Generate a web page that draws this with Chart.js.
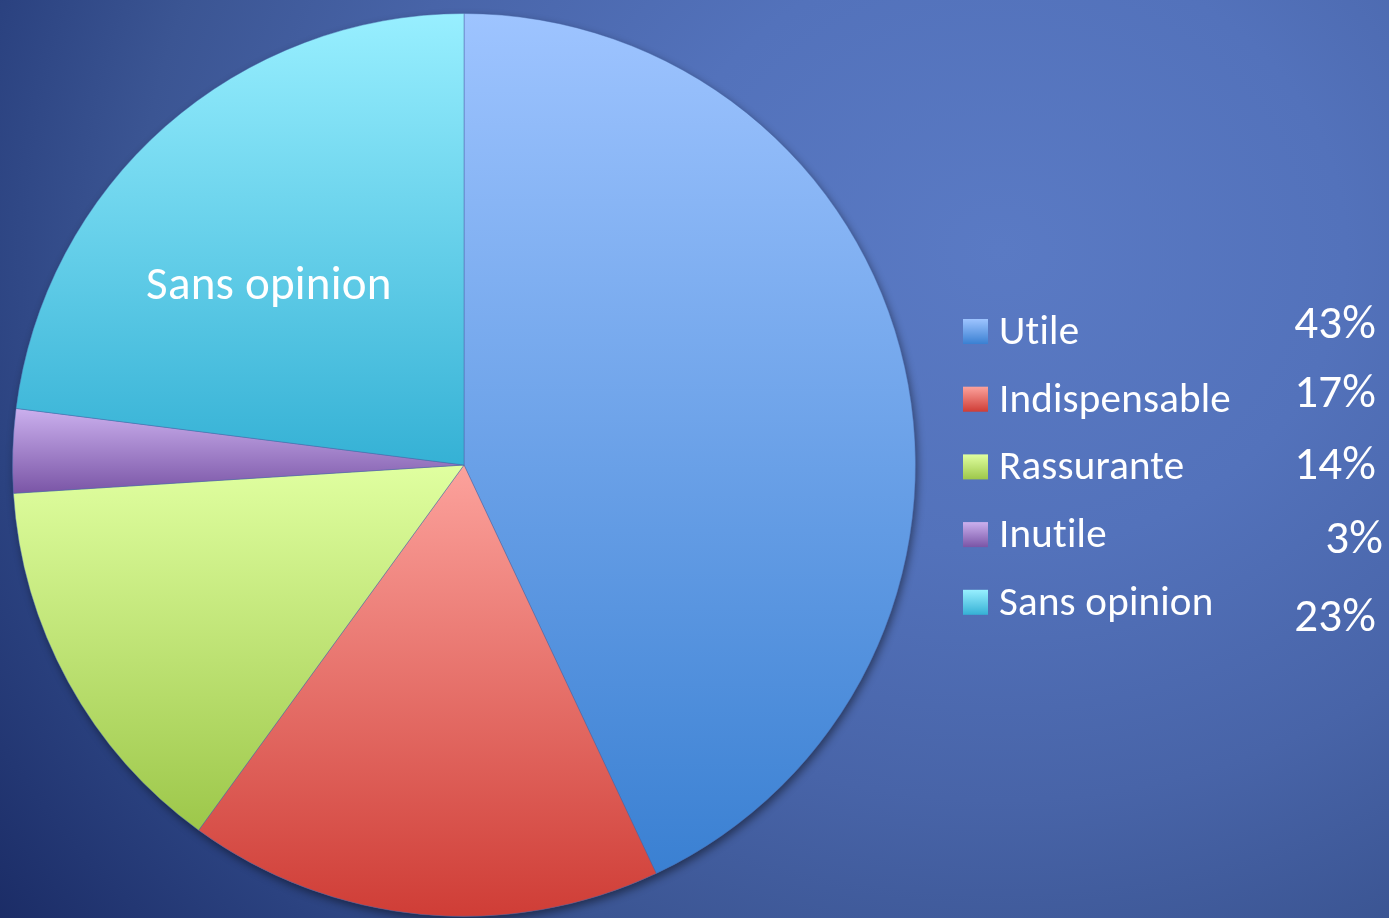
<!DOCTYPE html>
<html>
<head>
<meta charset="utf-8">
<script src="https://cdn.jsdelivr.net/npm/chart.js@4.4.1/dist/chart.umd.min.js"></script>
<style>
  html, body { margin: 0; padding: 0; width: 1389px; height: 918px; overflow: hidden; }
  body {
    background: radial-gradient(ellipse 1150px 1000px at 1000px 250px,
      #5a7ac4 0%, #5372bb 30%, #4864a8 55%, #3b5593 75%, #2b4280 90%, #1b2c66 110%);
  }
  canvas { display: block; }
</style>
</head>
<body>
<canvas id="pie" width="1389" height="918"></canvas>
<script>
// données du graphique
const categories = ['Utile', 'Indispensable', 'Rassurante', 'Inutile', 'Sans opinion'];
const values = [43, 17, 14, 3, 23];
const pctLabels = ['43%', '17%', '14%', '3%', '23%'];
const topColors = ['#9ec4ff', '#fca29c', '#e0ffa0', '#cbb0ee', '#98efff'];
const bottomColors = ['#3a80d2', '#cf3d36', '#9dc74a', '#7a55a6', '#35b1d5'];
const pieLabelIndex = 4; // seule tranche étiquetée dans l'original

const FONT = 'Carlito, Calibri, Lato, sans-serif';

function sliceAngles(i) {
  const total = values.reduce((a, b) => a + b, 0);
  let s = 0;
  for (let k = 0; k < i; k++) s += values[k];
  return [s / total * 2 * Math.PI, (s + values[i]) / total * 2 * Math.PI];
}

// dégradé vertical propre à chaque tranche
function sliceGradient(c) {
  const chart = c.chart, area = chart.chartArea;
  const i = c.dataIndex;
  if (!area) return topColors[i];
  const cx = (area.left + area.right) / 2, cy = (area.top + area.bottom) / 2;
  const r = Math.min(area.width, area.height) / 2;
  const [a0, a1] = sliceAngles(i);
  const ys = [cy, cy - r * Math.cos(a0), cy - r * Math.cos(a1)];
  if (a0 <= 0.0001 || a1 >= 2 * Math.PI - 0.0001) ys.push(cy - r);
  if (a0 <= Math.PI && a1 >= Math.PI) ys.push(cy + r);
  const g = chart.ctx.createLinearGradient(0, Math.min(...ys), 0, Math.max(...ys));
  g.addColorStop(0, topColors[i]);
  g.addColorStop(1, bottomColors[i]);
  return g;
}

function noLigatures(ctx) {
  if ('letterSpacing' in ctx) ctx.letterSpacing = '0.2px';
}

const shadowPlugin = {
  id: 'pieShadow',
  beforeDatasetsDraw(chart) {
    const arc = chart.getDatasetMeta(0).data[0];
    if (!arc) return;
    const ctx = chart.ctx;
    ctx.save();
    ctx.shadowColor = 'rgba(0,0,0,0.45)';
    ctx.shadowBlur = 8;
    ctx.shadowOffsetX = 2;
    ctx.shadowOffsetY = 4;
    ctx.fillStyle = '#4a6fb2';
    ctx.beginPath();
    ctx.arc(arc.x, arc.y, arc.outerRadius, 0, Math.PI * 2);
    ctx.fill();
    ctx.restore();
  }
};

const labelPlugin = {
  id: 'sliceLabel',
  afterDatasetsDraw(chart) {
    const arc = chart.getDatasetMeta(0).data[pieLabelIndex];
    if (!arc) return;
    const mid = (arc.startAngle + arc.endAngle) / 2;
    const d = arc.outerRadius * 0.59;
    const ctx = chart.ctx;
    ctx.save();
    noLigatures(ctx);
    ctx.fillStyle = '#ffffff';
    ctx.font = '47px ' + FONT;
    ctx.textAlign = 'center';
    ctx.textBaseline = 'middle';
    ctx.fillText(categories[pieLabelIndex], arc.x + Math.cos(mid) * d - 19, arc.y + Math.sin(mid) * d + 22);
    ctx.restore();
  }
};

// légende à droite avec colonne des pourcentages
const pctOffsetY = [-6, -5, 0, 6, 16];
const pctOffsetX = [0, 0, 0, 7, 0];
const legendPlugin = {
  id: 'sideLegend',
  afterDraw(chart) {
    const ctx = chart.ctx;
    ctx.save();
    noLigatures(ctx);
    categories.forEach((name, i) => {
      const base = 344 + i * 67.7;
      const my = base - 25;
      const g = ctx.createLinearGradient(0, my, 0, my + 25);
      g.addColorStop(0, topColors[i]);
      g.addColorStop(1, bottomColors[i]);
      ctx.fillStyle = g;
      ctx.fillRect(963, my, 25, 25);
      ctx.fillStyle = '#ffffff';
      ctx.font = '41px ' + FONT;
      ctx.textAlign = 'left';
      ctx.textBaseline = 'alphabetic';
      ctx.fillText(name, 999, base);
      ctx.font = '47px ' + FONT;
      ctx.textAlign = 'right';
      ctx.fillText(pctLabels[i], 1376 + pctOffsetX[i], base + pctOffsetY[i]);
    });
    ctx.restore();
  }
};

new Chart(document.getElementById('pie'), {
  type: 'pie',
  data: {
    labels: categories,
    datasets: [{
      data: values,
      backgroundColor: sliceGradient,
      borderWidth: 1,
      borderColor: 'rgba(70,100,165,0.45)'
    }]
  },
  options: {
    responsive: false,
    animation: false,
    layout: { padding: { left: 12, top: 13, right: 473, bottom: 1 } },
    plugins: {
      legend: { display: false },
      tooltip: { enabled: false }
    }
  },
  plugins: [shadowPlugin, labelPlugin, legendPlugin]
});
</script>
</body>
</html>
